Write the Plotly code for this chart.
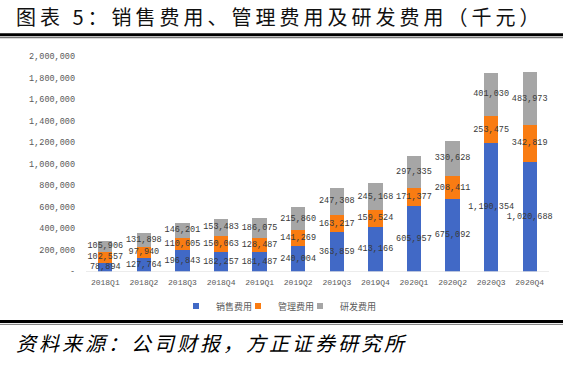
import plotly.graph_objects as go

quarters = ["2018Q1", "2018Q2", "2018Q3", "2018Q4", "2019Q1", "2019Q2",
            "2019Q3", "2019Q4", "2020Q1", "2020Q2", "2020Q3", "2020Q4"]
sales = [78894, 127764, 196843, 182257, 181487, 240004,
         363859, 413166, 605957, 675092, 1190354, 1020688]
admin = [102557, 97940, 110605, 150063, 128487, 141269,
         163217, 159524, 171377, 208411, 253475, 342819]
rnd = [105906, 131898, 146201, 153483, 186075, 215860,
       247308, 245168, 297335, 330628, 401030, 483973]
series_names = ["销售费用", "管理费用", "研发费用"]
colors = ["#4169C6", "#F97C12", "#A6A6A6"]
ytick_vals = [0, 200000, 400000, 600000, 800000, 1000000,
              1200000, 1400000, 1600000, 1800000, 2000000]

W, H = 563, 365
L, R, T, B = 86, 5, 56, 91
band = 38.6                      # px per category
x_max = 11.5 + (W - R - 549) / band

fig = go.Figure()
legend_ids = ["legend", "legend2", "legend3"]
for name, vals, col, lg in zip(series_names, [sales, admin, rnd], colors, legend_ids):
    fig.add_trace(go.Bar(
        x=quarters, y=vals, name=name, marker=dict(color=col, line=dict(width=0)),
        text=[f"{v:,}" for v in vals], textposition="inside",
        insidetextanchor="middle", textangle=0, constraintext="none",
        cliponaxis=False,
        textfont=dict(family="Liberation Mono", size=8.5, color="#3A3A3A"),
        showlegend=False, hoverinfo="skip"))
    fig.add_trace(go.Scatter(
        x=[None], y=[None], mode="markers", name=name, legend=lg,
        marker=dict(symbol="square", size=6, color=col)))

def py(p):
    return (H - B - p) / (H - T - B)

def px(p):
    return (p - L) / (W - L - R)

shapes = [
    dict(type="line", xref="x", yref="y", x0=-0.5, x1=11.5, y0=0, y1=0,
         line=dict(color="#D9D9D9", width=1)),
    dict(type="line", xref="paper", yref="paper", x0=px(0), x1=px(W), y0=py(34.5), y1=py(34.5),
         line=dict(color="#000000", width=3)),
    dict(type="line", xref="paper", yref="paper", x0=px(0), x1=px(W), y0=py(37.5), y1=py(37.5),
         line=dict(color="#555555", width=1)),
    dict(type="line", xref="paper", yref="paper", x0=px(0), x1=px(W), y0=py(324.5), y1=py(324.5),
         line=dict(color="#000000", width=3)),
    dict(type="line", xref="paper", yref="paper", x0=px(0), x1=px(W), y0=py(327.5), y1=py(327.5),
         line=dict(color="#777777", width=1)),
]

annotations = [
    dict(text='<span style="letter-spacing:4px">图表 5：销售费用、管理费用及研发费用（千元）</span>',
         xref="paper", yref="paper", x=px(14), y=py(16), xanchor="left", yanchor="middle",
         showarrow=False, font=dict(family="Noto Sans CJK SC", size=20, color="#111111")),
    dict(text='<span style="letter-spacing:3px">资料来源：公司财报，方正证券研究所</span>',
         xref="paper", yref="paper", x=px(14), y=py(346), xanchor="left", yanchor="middle",
         showarrow=False, font=dict(family="Noto Sans CJK SC", size=20, color="#000000", style="italic")),
]

def legend_at(left_px):
    return dict(orientation="h", xref="container", yref="container",
                x=left_px / W, y=1 - 306 / H, xanchor="left", yanchor="middle",
                font=dict(family="Noto Sans CJK SC", size=9, color="#595959"),
                itemwidth=30, bgcolor="rgba(0,0,0,0)", borderwidth=0)

fig.update_layout(
    width=W, height=H, barmode="stack", bargap=0.63,
    margin=dict(l=L, r=R, t=T, b=B),
    paper_bgcolor="white", plot_bgcolor="white",
    font=dict(family="Liberation Mono", color="#595959"),
    xaxis=dict(showgrid=False, showline=False, range=[-0.5, x_max],
               ticks="", tickfont=dict(family="Liberation Mono", size=8, color="#595959"),
               ticklabelstandoff=4),
    yaxis=dict(range=[0, 2000000], showgrid=False, zeroline=False, showline=False,
               tickvals=ytick_vals,
               ticktext=["-"] + [f"{v:,}" for v in ytick_vals[1:]],
               tickfont=dict(family="Liberation Mono", size=8.5, color="#595959"),
               ticklabelstandoff=10),
    legend=legend_at(176), legend2=legend_at(238), legend3=legend_at(300),
    shapes=shapes, annotations=annotations,
)

fig.write_html("out.html", config={"displayModeBar": False},
               post_script="document.body.style.margin='0px';document.body.style.overflow='hidden';")
